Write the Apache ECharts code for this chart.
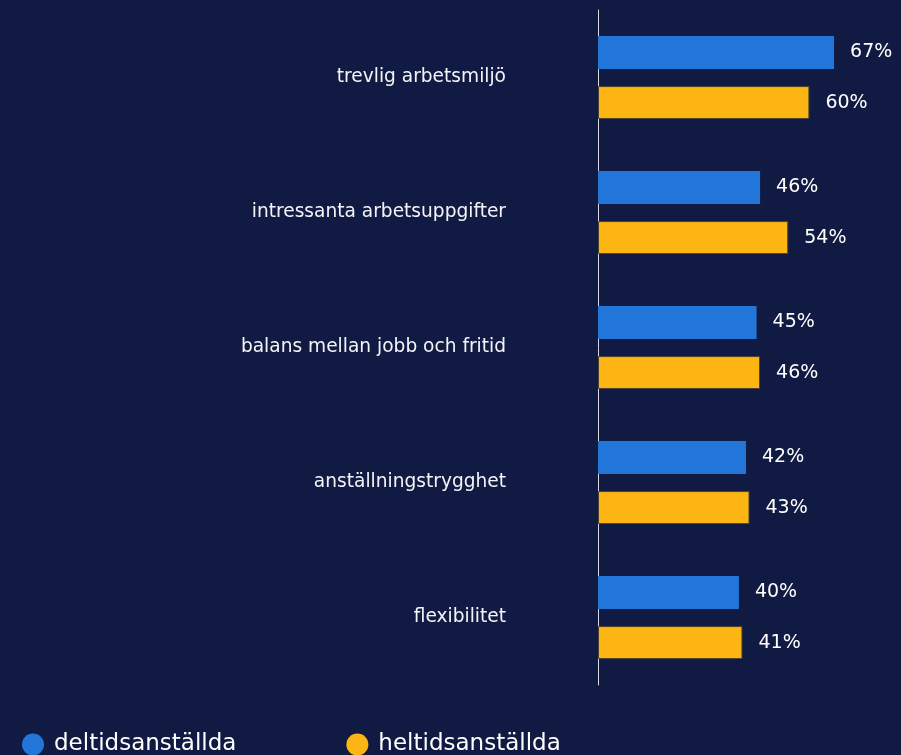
<!doctype html>
<html>
	<head>
		<meta charset="utf-8">
		<title></title>
		<script src="https://cdn.jsdelivr.net/npm/echarts@6/dist/echarts.min.js"></script>
		<style>
			html, body { margin: 0; padding: 0; background: #111a42; }
			#container { width: 901px; height: 755px; }
		</style>
	</head>
	<body>
		<div id="container"></div>
	</body>
</html>
<script type="text/javascript">
	var categories = ['trevlig arbetsmiljö', 'intressanta arbetsuppgifter', 'balans mellan jobb och fritid', 'anställningstrygghet', 'flexibilitet'];
	var seriesNames = ['deltidsanställda', 'heltidsanställda'];
	var deltid = [67, 46, 45, 42, 40];
	var heltid = [60, 54, 46, 43, 41];

	var font = 'Tahoma, "DejaVu Sans", sans-serif';

	var option = {
		backgroundColor: '#111a42',
		textStyle: { fontFamily: font },
		legend: {
			data: seriesNames,
			left: 17,
			top: 728,
			icon: 'circle',
			itemWidth: 22,
			itemHeight: 22,
			itemGap: 110,
			itemStyle: { borderWidth: 0 },
			textStyle: { color: '#ffffff', fontSize: 23, fontFamily: font, padding: [0, 0, 0, 5] }
		},
		grid: {
			left: 598,
			top: 10,
			height: 675,
			right: 0
		},
		xAxis: {
			type: 'value',
			min: 0,
			max: 86,
			show: false
		},
		yAxis: {
			type: 'category',
			inverse: true,
			data: categories,
			axisLine: { show: true, lineStyle: { color: '#d8d8e0', width: 1 } },
			axisTick: { show: false },
			axisLabel: { color: '#f4f4f8', fontSize: 18.6, margin: 92, fontFamily: font, padding: [0, 0, 5, 0] }
		},
		series: [{
			name: seriesNames[0],
			type: 'bar',
			data: deltid,
			barWidth: 33,
			barGap: '52%',
			itemStyle: { color: '#2376d9' },
			label: { show: true, position: 'right', distance: 16, color: '#ffffff', fontSize: 19, fontFamily: font, formatter: '{c}%' }
		}, {
			name: seriesNames[1],
			type: 'bar',
			data: heltid,
			barWidth: 33,
			itemStyle: { color: '#fdb514', borderColor: '#4a4330', borderWidth: 1 },
			label: { show: true, position: 'right', distance: 16, color: '#ffffff', fontSize: 19, fontFamily: font, formatter: '{c}%' }
		}]
	};

	var myChart = echarts.init(document.getElementById('container'));
	myChart.setOption(option);
</script>
